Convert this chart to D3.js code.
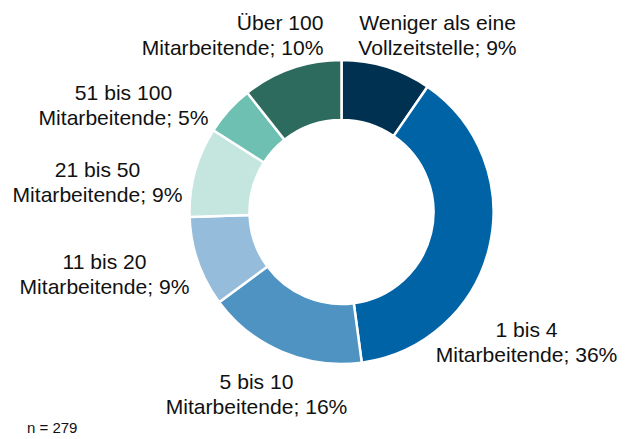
<!DOCTYPE html>
<html>
<head>
  <meta charset="utf-8">
  <title>Unternehmensgröße</title>
  <style>
    body { margin: 0; background: #fff; }
    svg text { font-family: "Liberation Sans", Arial, sans-serif; fill: #111; }
  </style>
</head>
<body>
  <svg id="chart" width="629" height="439"></svg>

  <script src="https://d3js.org/d3.v7.min.js"></script>
  <script>
    // data (percent labels as printed)
    const categories = [
      ["Weniger als eine", "Vollzeitstelle; 9%"],
      ["1 bis 4", "Mitarbeitende; 36%"],
      ["5 bis 10", "Mitarbeitende; 16%"],
      ["11 bis 20", "Mitarbeitende; 9%"],
      ["21 bis 50", "Mitarbeitende; 9%"],
      ["51 bis 100", "Mitarbeitende; 5%"],
      ["Über 100", "Mitarbeitende; 10%"]
    ];
    const shares = [9, 36, 16, 9, 9, 5, 10];
    const colors = ["#003150", "#0063a6", "#4f93c2", "#95bddb", "#c5e5df", "#6dc0b2", "#2e6b5f"];
    const note = "n = 279";

    const svg = d3.select("#chart");
    const cx = 341.5, cy = 212;
    const outerR = 152, innerR = 92;

    const pie = d3.pie().sort(null).value(d => d);
    const arc = d3.arc().innerRadius(innerR).outerRadius(outerR);
    const arcs = pie(shares);

    const g = svg.append("g").attr("transform", `translate(${cx},${cy})`);

    g.selectAll("path")
      .data(arcs)
      .enter().append("path")
      .attr("d", arc)
      .attr("fill", (d, i) => colors[i])
      .attr("stroke", "#fff")
      .attr("stroke-width", 2.5);

    // label placement relative to the centre (Excel-style outside labels)
    const labelPos = [
      { dx: 96, dy: -177, anchor: "middle" },
      { dx: 185, dy: 130, anchor: "middle" },
      { dx: -85, dy: 182, anchor: "middle" },
      { dx: -237, dy: 62, anchor: "middle" },
      { dx: -244, dy: -30, anchor: "middle" },
      { dx: -218, dy: -107, anchor: "middle" },
      { dx: -18, dy: -177, anchor: "end" }
    ];

    const labels = g.selectAll("text.lbl")
      .data(arcs)
      .enter().append("text")
      .attr("class", "lbl")
      .attr("font-size", 20)
      .attr("text-anchor", (d, i) => labelPos[i].anchor)
      .attr("transform", (d, i) => `translate(${labelPos[i].dx},${labelPos[i].dy}) scale(1.055,1)`);

    labels.each(function(d, i) {
      const t = d3.select(this);
      categories[i].forEach((line, j) => {
        t.append("tspan")
          .attr("x", 0)
          .attr("y", j === 0 ? -5 : 20)
          .text(line);
      });
    });

    svg.append("text")
      .attr("x", 27)
      .attr("y", 433)
      .attr("font-size", 15)
      .text(note);
  </script>
</body>
</html>
